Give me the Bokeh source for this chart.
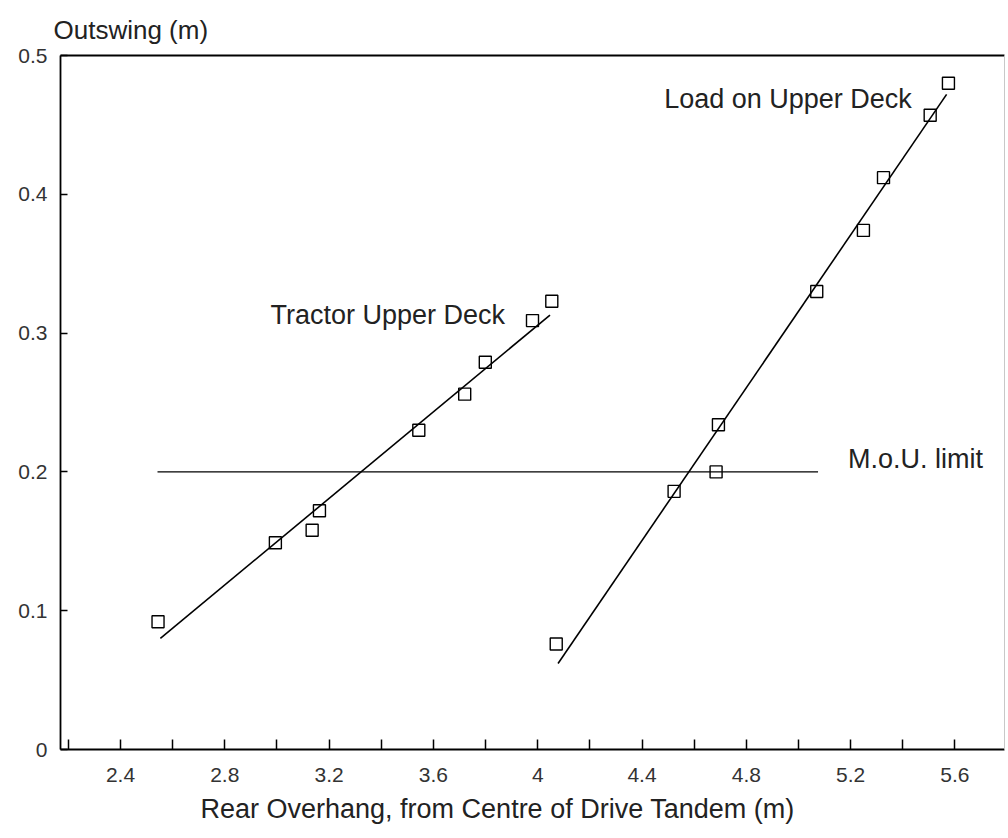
from bokeh.plotting import figure
from bokeh.models import FixedTicker, LinearAxis, Range1d, ColumnDataSource, Title
from bokeh.core.properties import value
from bokeh.embed import file_html
from bokeh.resources import INLINE

# ---- data ----
tractor_x = [2.544, 2.994, 3.135, 3.163, 3.544, 3.720, 3.799, 3.980, 4.054]
tractor_y = [0.092, 0.149, 0.158, 0.172, 0.230, 0.256, 0.279, 0.309, 0.323]
tractor_fit_x = [2.553, 4.047]
tractor_fit_y = [0.080, 0.313]

load_x = [4.071, 4.523, 4.684, 4.693, 5.070, 5.249, 5.326, 5.505, 5.575]
load_y = [0.076, 0.186, 0.200, 0.234, 0.330, 0.374, 0.412, 0.457, 0.480]
load_fit_x = [4.078, 5.568]
load_fit_y = [0.062, 0.472]

limit_x = [2.542, 5.075]
limit_y = [0.2, 0.2]

x_ticks = [2.4, 2.8, 3.2, 3.6, 4.0, 4.4, 4.8, 5.2, 5.6]
x_minor = [2.2, 2.6, 3.0, 3.4, 3.8, 4.2, 4.6, 5.0, 5.4]
y_ticks = [0.0, 0.1, 0.2, 0.3, 0.4, 0.5]

labels_text = ["Tractor Upper Deck", "Load on Upper Deck", "M.o.U. limit"]
labels_x = [2.975, 4.485, 5.19]
labels_y = [0.313, 0.469, 0.209]

FONT = "Liberation Sans"

p = figure(width=1006, height=836, output_backend="svg", toolbar_location=None,
           x_range=Range1d(2.17, 5.79), y_range=Range1d(0, 0.5),
           min_border_left=60, min_border_right=2, min_border_top=55, min_border_bottom=87)
p.background_fill_color = "white"
p.border_fill_color = "white"
p.outline_line_color = None
p.grid.visible = False

p.title.text = "Outswing (m)"
p.title.text_font = FONT
p.title.text_font_size = "26px"
p.title.text_font_style = "normal"
p.title.text_color = "#222222"
p.title.align = "left"
p.title.offset = -7
p.title.standoff = 22
p.title.text_line_height = 0.8

# x axis
xa = p.xaxis[0]
xa.ticker = FixedTicker(ticks=x_ticks, minor_ticks=x_minor)
xa.major_label_overrides = {4.0: "4"}
xa.major_tick_in = 10
xa.major_tick_out = 0
xa.minor_tick_in = 10
xa.minor_tick_out = 0
xa.major_tick_line_width = 1.5
xa.minor_tick_line_width = 1.5
xa.axis_line_width = 1.8
xa.major_label_text_font = FONT
xa.major_label_text_font_size = "21px"
xa.major_label_text_color = "#333333"
xa.major_label_standoff = 18

# y axis
ya = p.yaxis[0]
ya.ticker = FixedTicker(ticks=y_ticks, minor_ticks=[])
ya.major_label_overrides = {0.0: "0"}
ya.major_tick_in = 7
ya.major_tick_out = 0
ya.major_tick_line_width = 1.5
ya.axis_line_width = 1.8
ya.major_label_text_font = FONT
ya.major_label_text_font_size = "21px"
ya.major_label_text_color = "#333333"
ya.major_label_standoff = 13

# top and right border lines
top = LinearAxis(axis_line_width=1.8, major_tick_line_color=None, minor_tick_line_color=None,
                 major_label_text_font_size="0px", ticker=FixedTicker(ticks=[]))
p.add_layout(top, "above")
right = LinearAxis(axis_line_width=1.0, axis_line_color="#c8c8c8", major_tick_line_color=None,
                   minor_tick_line_color=None, major_label_text_font_size="0px",
                   ticker=FixedTicker(ticks=[]))
p.add_layout(right, "right")

# x axis title below the axis
xt = Title(text="Rear Overhang, from Centre of Drive Tandem (m)", text_font=FONT,
           text_font_size="27px", text_font_style="normal", text_color="#222222",
           align="left", offset=140, standoff=14, text_line_height=0.8)
p.add_layout(xt, "below")

# lines
p.line(tractor_fit_x, tractor_fit_y, line_color="black", line_width=1.6)
p.line(load_fit_x, load_fit_y, line_color="black", line_width=1.6)
p.line(limit_x, limit_y, line_color="black", line_width=1.3)

# points
p.scatter(tractor_x, tractor_y, marker="square", size=12, fill_color=None,
          line_color="black", line_width=1.4)
p.scatter(load_x, load_y, marker="square", size=12, fill_color=None,
          line_color="black", line_width=1.4)

src = ColumnDataSource(dict(x=labels_x, y=labels_y, t=labels_text))
p.text(x="x", y="y", text="t", source=src, text_font=value(FONT), text_font_size="27px",
       text_color="#222222", text_baseline="middle", text_align="left")

open("out.html", "w").write(file_html(p, INLINE))
